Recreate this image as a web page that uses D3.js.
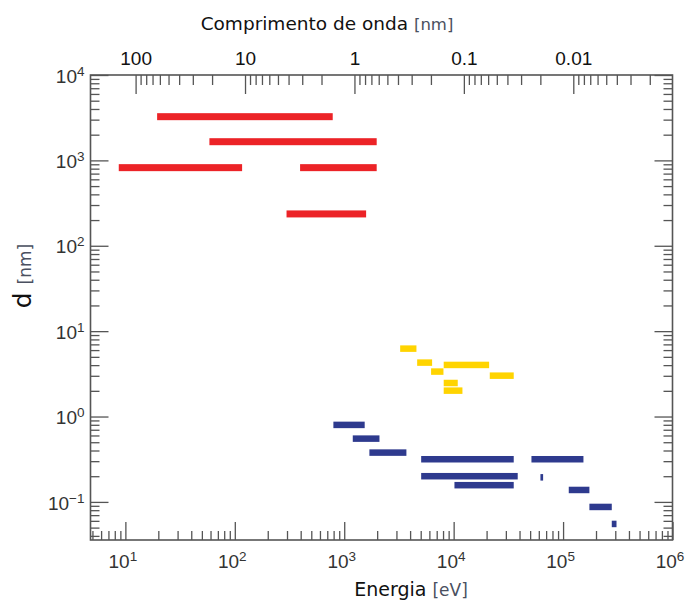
<!DOCTYPE html>
<html>
<head>
<meta charset="utf-8">
<script src="https://cdn.jsdelivr.net/npm/d3@7"></script>
<style>
  html, body { margin: 0; padding: 0; background: #fff; }
  svg { display: block; }
</style>
</head>
<body>
<svg id="chart" width="690" height="605"></svg>
<script>
// Energy range of each bar (eV) and its size d (nm), one set of arrays per colour group
const redLow  = [19.5, 58.6, 8.7, 395, 297];
const redHigh = [785, 1980, 116.6, 1980, 1585];
const redD    = [3250, 1655, 822, 822, 236];

const yellowLow  = [3245, 4640, 6220, 8110, 21380, 8110, 8110];
const yellowHigh = [4570, 6355, 8070, 21100, 35400, 10900, 12030];
const yellowD    = [6.24, 4.28, 3.36, 4.02, 3.01, 2.47, 2.01];

const blueLow  = [796, 1197, 1698, 5048, 51400, 5048, 10170, 62100, 112700, 174000, 278600];
const blueHigh = [1538, 2099, 3700, 35400, 153500, 38500, 35400, 65700, 174000, 278600, 307800];
const blueD    = [0.798, 0.551, 0.378, 0.316, 0.316, 0.200, 0.157, 0.194, 0.138, 0.0873, 0.0552];

// Axis extents and labelled ticks
const energyDomain = [4.8, 1e6];
const dDomain = [0.0358, 1e4];
const energyTicks = [1e1, 1e2, 1e3, 1e4, 1e5, 1e6];
const dTicks = [1e-1, 1e0, 1e1, 1e2, 1e3, 1e4];
const waveTicks = [100, 10, 1, 0.1, 0.01];
const waveLabels = ["100", "10", "1", "0.1", "0.01"];

const HC = 1239.84; // eV·nm, converts photon energy to wavelength

const L = 90.5, R = 672.5, T = 75, B = 540;
const MAJOR = 18, MINOR = 9;
const frameColor = "#555";
const tickFontSize = 19;

const svg = d3.select("#chart");

const x = d3.scaleLog().domain(energyDomain).range([L, R]);
const y = d3.scaleLog().domain(dDomain).range([B, T]);
const w = d3.scaleLog().domain([HC / energyDomain[0], HC / energyDomain[1]]).range([L, R]);

const isPow10 = v => Math.abs(Math.log10(v) - Math.round(Math.log10(v))) < 1e-6;
const expText = v => { const e = Math.round(Math.log10(v)); return e < 0 ? "\u2212" + (-e) : String(e); };

const xMinor = x.ticks().filter(v => !isPow10(v));
const yMinor = y.ticks().filter(v => !isPow10(v));
const wAll = w.ticks().filter(v => v <= 100 + 1e-9);
const wMinor = wAll.filter(v => !isPow10(v));

function styleAxis(g) {
  g.select(".domain").remove();
  g.selectAll(".tick line").attr("stroke", frameColor).attr("stroke-width", 1.3);
  g.selectAll(".tick text")
    .attr("fill", "#333")
    .attr("font-family", "'Liberation Sans', Arial, sans-serif")
    .attr("font-size", tickFontSize);
}

// Power-of-ten labels written as 10 with a raised exponent
function powerLabels(g, dx) {
  g.selectAll(".tick text").each(function (v) {
    const t = d3.select(this);
    t.text(null);
    t.append("tspan").attr("dx", dx || 0).text("10");
    t.append("tspan").attr("dy", -7).attr("font-size", 13.5).text(expText(v));
  });
}

// Bottom: energy
svg.append("g").attr("transform", `translate(0,${B})`)
  .call(d3.axisBottom(x).tickValues(xMinor).tickSizeInner(-MINOR).tickSizeOuter(0).tickFormat(() => ""))
  .call(styleAxis);
svg.append("g").attr("transform", `translate(0,${B})`)
  .call(d3.axisBottom(x).tickValues(energyTicks).tickSizeInner(-MAJOR).tickSizeOuter(0).tickPadding(14.5))
  .call(styleAxis).call(powerLabels, -3);

// Left: d
svg.append("g").attr("transform", `translate(${L},0)`)
  .call(d3.axisLeft(y).tickValues(yMinor).tickSizeInner(-MINOR).tickSizeOuter(0).tickFormat(() => ""))
  .call(styleAxis);
svg.append("g").attr("transform", `translate(${L},0)`)
  .call(d3.axisLeft(y).tickValues(dTicks).tickSizeInner(-MAJOR).tickSizeOuter(0).tickPadding(6))
  .call(styleAxis).call(powerLabels, 0)
  .call(g => g.selectAll(".tick text").attr("dy", "0.38em"));

// Right: mirrored ticks
svg.append("g").attr("transform", `translate(${R},0)`)
  .call(d3.axisLeft(y).tickValues(yMinor).tickSizeInner(MINOR).tickSizeOuter(0).tickFormat(() => ""))
  .call(styleAxis);
svg.append("g").attr("transform", `translate(${R},0)`)
  .call(d3.axisLeft(y).tickValues(dTicks).tickSizeInner(MAJOR).tickSizeOuter(0).tickFormat(() => ""))
  .call(styleAxis);

// Top: wavelength
svg.append("g").attr("transform", `translate(0,${T})`)
  .call(d3.axisTop(w).tickValues(wMinor).tickSizeInner(-MINOR - 1).tickSizeOuter(0).tickFormat(() => ""))
  .call(styleAxis);
svg.append("g").attr("transform", `translate(0,${T})`)
  .call(d3.axisTop(w).tickValues(waveTicks).tickSizeInner(-MAJOR - 1).tickSizeOuter(0).tickPadding(10)
    .tickFormat((d, i) => waveLabels[i]))
  .call(styleAxis)
  .call(g => g.selectAll(".tick text").attr("fill", "#111"));

// Plot frame
svg.append("rect")
  .attr("x", L).attr("y", T).attr("width", R - L).attr("height", B - T)
  .attr("fill", "none").attr("stroke", frameColor).attr("stroke-width", 1.6);

// Bars
function drawBars(lows, highs, ds, color, h) {
  svg.append("g").selectAll("rect")
    .data(ds.map((d, i) => ({ lo: lows[i], hi: highs[i], d })))
    .join("rect")
    .attr("x", d => x(d.lo))
    .attr("width", d => x(d.hi) - x(d.lo))
    .attr("y", d => y(d.d) - h / 2)
    .attr("height", h)
    .attr("fill", color);
}
drawBars(redLow, redHigh, redD, "#ec2327", 7);
drawBars(yellowLow, yellowHigh, yellowD, "#ffd400", 6.5);
drawBars(blueLow, blueHigh, blueD, "#2e3a8e", 6.5);

// Axis titles
const titleFont = "'DejaVu Sans', sans-serif";
const titleTop = svg.append("text")
  .attr("x", 327).attr("y", 30).attr("text-anchor", "middle")
  .attr("font-family", titleFont).attr("font-size", 18.5).attr("fill", "#111");
titleTop.append("tspan").text("Comprimento de onda ");
titleTop.append("tspan").attr("font-size", 16.5).attr("fill", "#4a5060").text("[nm]");

const titleBottom = svg.append("text")
  .attr("x", 411).attr("y", 596).attr("text-anchor", "middle")
  .attr("font-family", titleFont).attr("font-size", 19).attr("fill", "#111");
titleBottom.append("tspan").text("Energia  ");
titleBottom.append("tspan").attr("font-size", 17).attr("fill", "#4a5060").text("[eV]");

const titleLeft = svg.append("text")
  .attr("transform", "translate(31,276) rotate(-90)").attr("text-anchor", "middle")
  .attr("font-family", titleFont).attr("font-size", 25).attr("fill", "#111");
titleLeft.append("tspan").text("d ");
titleLeft.append("tspan").attr("font-size", 17).attr("fill", "#4a5060").text("[nm]");
</script>
</body>
</html>
